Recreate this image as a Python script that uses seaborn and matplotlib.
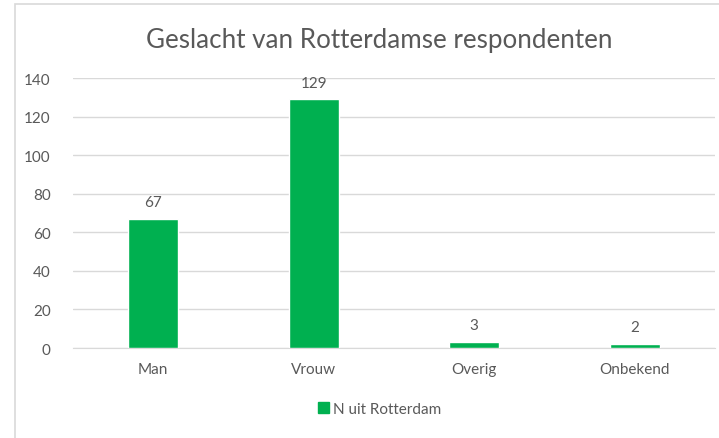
import matplotlib
matplotlib.use("Agg")
import matplotlib.pyplot as plt
import seaborn as sns
import pandas as pd
from matplotlib.patches import Rectangle, Patch

# Data
categories = ["Man", "Vrouw", "Overig", "Onbekend"]
counts = [67, 129, 3, 2]
series_name = "N uit Rotterdam"

df = pd.DataFrame({"geslacht": categories, "n": counts})

sns.set_style("white")
plt.rcParams["font.family"] = ["Lato", "DejaVu Sans"]

green = "#00B050"
text_grey = "#595959"

fig = plt.figure(figsize=(7.19, 4.39), dpi=100)
ax = fig.add_axes([0.1015, 0.205, 0.893, 0.615])

sns.barplot(data=df, x="geslacht", y="n", color=green, width=0.31,
            saturation=1, ax=ax, zorder=3)

ax.set_ylim(0, 140)
ax.set_yticks(range(0, 141, 20))
ax.set_xlim(-0.5, 3.5)
ax.grid(axis="y", color="#D9D9D9", linewidth=1, zorder=0)
for side in ["top", "right", "left"]:
    ax.spines[side].set_visible(False)
ax.spines["bottom"].set_color("#D9D9D9")
ax.tick_params(axis="both", length=0, labelsize=11, colors=text_grey)
ax.tick_params(axis="x", pad=10)
ax.tick_params(axis="y", pad=16)
ax.set_xlabel("")
ax.set_ylabel("")

# value labels
for i, v in enumerate(counts):
    ax.annotate(str(v), (i, v), xytext=(0, 7), textcoords="offset points",
                ha="center", va="bottom", fontsize=11, color=text_grey)

fig.text(0.527, 0.908, "Geslacht van Rotterdamse respondenten",
         ha="center", va="center", fontsize=18.7, color=text_grey)

fig.legend(handles=[Patch(color=green, label=series_name)],
           loc="center", bbox_to_anchor=(0.528, 0.066), frameon=False,
           fontsize=11, labelcolor=text_grey, handlelength=0.7,
           handleheight=0.7, handletextpad=0.3)

# chart frame
fig.patches.append(Rectangle((15 / 719, -0.05), 1.0, 1 - 5 / 439 + 0.05,
                             transform=fig.transFigure, fill=False,
                             edgecolor="#D9D9D9", linewidth=1.2))

fig.savefig("out.png", dpi=100)
